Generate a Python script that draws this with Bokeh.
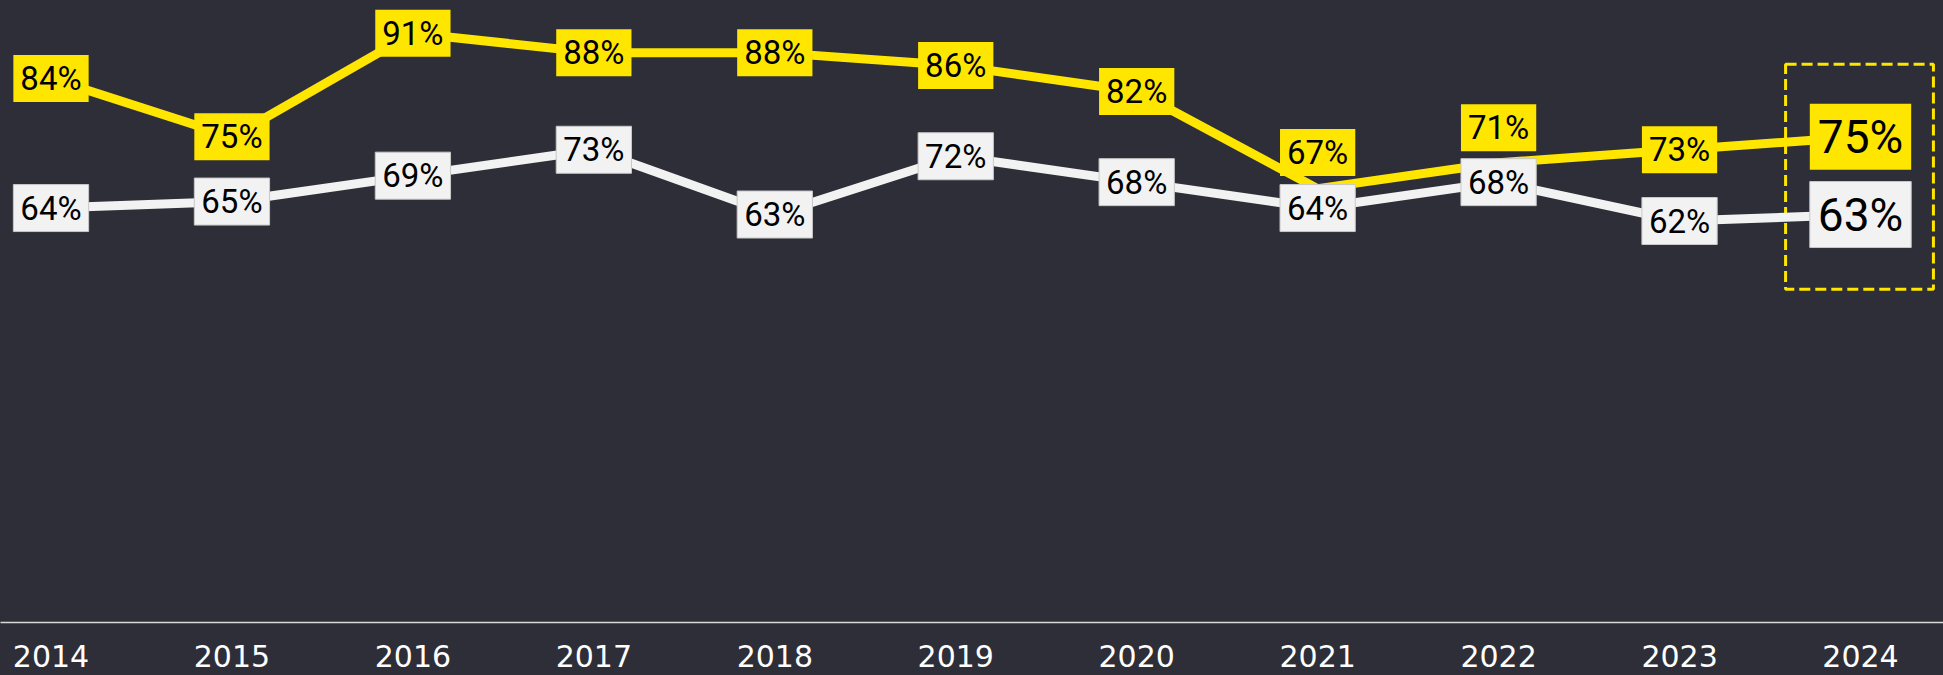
from bokeh.plotting import figure
from bokeh.models import ColumnDataSource, FixedTicker, GlobalInlineStyleSheet, Range1d
from bokeh.core.properties import value
from bokeh.embed import file_html
from bokeh.resources import INLINE

# ---------------- data ----------------
years = ["2014", "2015", "2016", "2017", "2018", "2019", "2020", "2021", "2022", "2023", "2024"]
yellow_values = [84, 75, 91, 88, 88, 86, 82, 67, 71, 73, 75]
white_values = [64, 65, 69, 73, 63, 72, 68, 64, 68, 62, 63]

# ---------------- style ----------------
BG = "#2E2E38"
YELLOW = "#FFE600"
WHITE = "#F2F2F2"
LABEL_FONT = "Roboto"
TICK_FONT = "DejaVu Sans"
yellow_label_dy = [0, 0, 0, 0, 0, 0, 0, -36, -35, 0, 0]   # screen px shifts of a few labels
white_label_dy = [0] * len(years)

x = list(range(len(years)))
n = len(years)

p = figure(width=1943, height=675, output_backend="svg", toolbar_location=None,
           x_range=Range1d(-0.2791, 10.4587), y_range=Range1d(0, 96.05),
           y_axis_location=None, x_axis_location="below",
           min_border_left=0, min_border_right=0, min_border_top=0, min_border_bottom=53,
           background_fill_color=BG, border_fill_color=BG, outline_line_color=None)
p.stylesheets = [GlobalInlineStyleSheet(css="html, body { margin: 0; padding: 0; background: #2E2E38; overflow: hidden; }")]
p.grid.visible = False

# highlight box around the last year
hl = ColumnDataSource(dict(left=[x[-1] - 0.414], right=[x[-1] + 0.403],
                           top=[yellow_values[-1] + 11.2], bottom=[white_values[-1] - 11.55]))
p.quad(left="left", right="right", top="top", bottom="bottom", source=hl,
       fill_color=None, line_color=YELLOW, line_width=3, line_dash="11 5")

# lines
p.line(x, white_values, line_color=WHITE, line_width=9)
p.line(x, yellow_values, line_color=YELLOW, line_width=9)

def add_labels(idx, vals, dys, fill, border, size, pad_x, pad_y):
    src = ColumnDataSource(dict(
        x=[x[i] for i in idx], y=[vals[i] for i in idx],
        dy=[dys[i] for i in idx], t=[f"{vals[i]}%" for i in idx]))
    p.text(x="x", y="y", text="t", y_offset="dy", source=src, anchor="center",
           text_align="center", text_baseline="middle",
           text_font=value(LABEL_FONT), text_font_size=size, text_color="#000000",
           background_fill_color=fill, border_line_color=border, border_line_width=1,
           padding=dict(x=pad_x, y=pad_y))

normal = list(range(n - 1))
last = [n - 1]
add_labels(normal, white_values, white_label_dy, WHITE, "#C8C8C8", "33px", 7, 4)
add_labels(normal, yellow_values, yellow_label_dy, YELLOW, None, "33px", 7, 4)
add_labels(last, white_values, white_label_dy, WHITE, "#C8C8C8", "46px", 8, 6)
add_labels(last, yellow_values, yellow_label_dy, YELLOW, None, "46px", 8, 6)

# x axis
ax = p.xaxis[0]
ax.ticker = FixedTicker(ticks=x)
ax.major_label_overrides = {i: y for i, y in zip(x, years)}
ax.major_label_text_font = TICK_FONT
ax.major_label_text_font_size = "30px"
ax.major_label_text_color = "#FFFFFF"
ax.major_label_standoff = 16
ax.axis_line_color = "#D9D9D9"
ax.axis_line_width = 1.5
ax.major_tick_line_color = None
ax.minor_tick_line_color = None

open("out.html", "w").write(file_html(p, INLINE))
